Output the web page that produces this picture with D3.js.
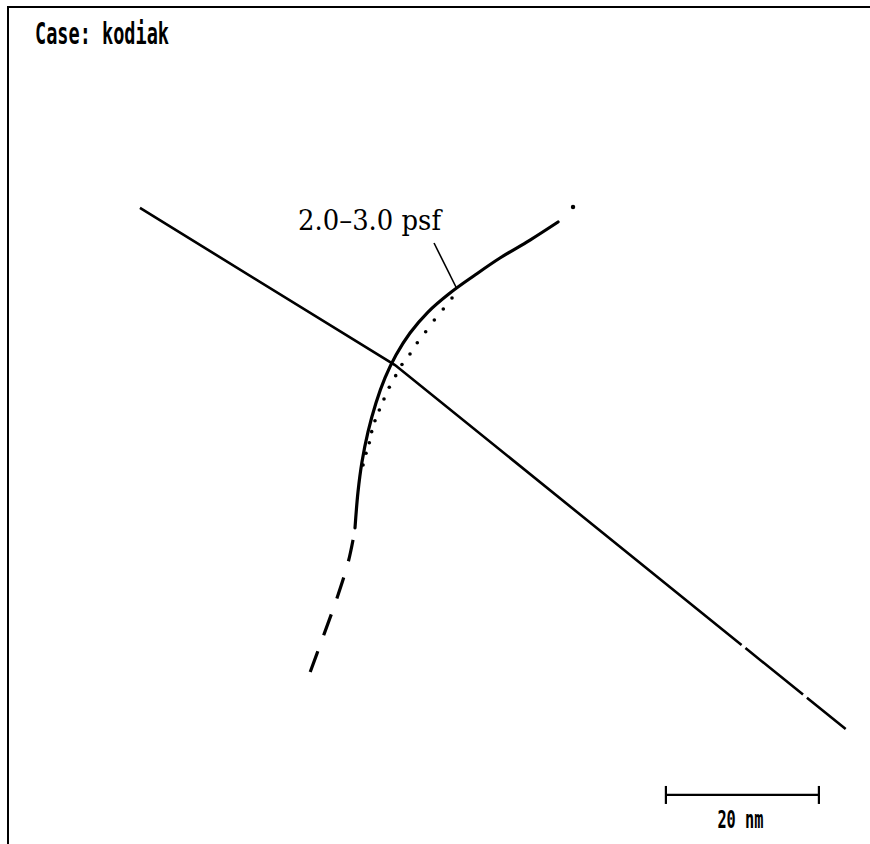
<!DOCTYPE html>
<html>
<head>
<meta charset="utf-8">
<script src="https://cdn.jsdelivr.net/npm/d3@7"></script>
<style>
  html, body { margin: 0; padding: 0; background: #fff; }
  svg { display: block; }
</style>
</head>
<body>
<div id="chart"></div>
<script>
// positions in nm, x to the east, y to the north
const trackLine = [
  [17.25, 83.14], [50.59, 62.61], [109.5, 15.03]
];
const contourSolid = [
  [71.90, 81.31], [68.24, 78.95], [64.31, 76.60], [61.05, 74.38],
  [57.78, 72.03], [54.90, 69.54], [52.55, 66.80], [50.72, 63.92],
  [49.28, 60.92], [48.10, 57.65], [47.06, 53.86], [46.27, 49.93],
  [45.75, 46.01], [45.36, 41.31]
];
const contourDashed = [
  [45.36, 41.31], [45.10, 39.74], [44.44, 36.73], [43.01, 32.16],
  [41.18, 27.06], [39.22, 21.70]
];
const contourEndDot = [[73.86, 83.27]];
const dottedPoints = [
  [58.04, 71.37], [56.90, 69.93], [55.73, 68.50], [54.60, 66.97],
  [53.50, 65.53], [52.55, 64.05], [51.50, 62.68], [50.68, 61.22],
  [49.84, 59.70], [49.15, 58.17], [48.54, 56.73], [47.97, 55.33],
  [47.54, 53.90], [47.23, 52.46], [46.80, 51.07], [46.41, 49.54]
];
const leader = [[55.69, 78.56], [58.69, 72.55]];
const contourLabel = { text: "2.0\u20133.0 psf", pos: [37.91, 80.26] };
const scaleBar = { start: 86.0, length: 20, y: 6.41, label: "20 nm" };
const caseTitle = "Case: kodiak";

const width = 870, height = 844;

const svg = d3.select("#chart").append("svg")
  .attr("width", width)
  .attr("height", height);

// 20 nm = 153 px
const x = d3.scaleLinear().domain([0, 100]).range([8, 773]);
const y = d3.scaleLinear().domain([0, 100]).range([844, 79]);

// frame (top and left edges only)
svg.append("path")
  .attr("d", `M8,${height} L8,7 L${width},7`)
  .attr("fill", "none")
  .attr("stroke", "#000")
  .attr("stroke-width", 2);

svg.append("text")
  .attr("x", 35).attr("y", 44)
  .attr("font-family", "DejaVu Sans Mono")
  .attr("font-weight", "bold")
  .attr("font-size", 30)
  .attr("textLength", 134)
  .attr("lengthAdjust", "spacingAndGlyphs")
  .text(caseTitle);

const line = d3.line().x(d => x(d[0])).y(d => y(d[1]));
const smooth = d3.line().x(d => x(d[0])).y(d => y(d[1])).curve(d3.curveCatmullRom.alpha(0.5));

// storm track (plotter leaves two small breaks near the end)
svg.append("path")
  .attr("d", line(trackLine))
  .attr("fill", "none")
  .attr("stroke", "#000")
  .attr("stroke-width", 2.6)
  .attr("stroke-dasharray", "745,5,74,5,400");

// solid contour
svg.append("path")
  .attr("d", smooth(contourSolid))
  .attr("fill", "none")
  .attr("stroke", "#000")
  .attr("stroke-width", 3.2)
  .attr("stroke-linecap", "round");

// dashed continuation
svg.append("path")
  .attr("d", smooth(contourDashed))
  .attr("fill", "none")
  .attr("stroke", "#000")
  .attr("stroke-width", 3.2)
  .attr("stroke-dasharray", "22,17")
  .attr("stroke-dashoffset", 27);

svg.selectAll("circle.end")
  .data(contourEndDot)
  .enter().append("circle")
  .attr("class", "end")
  .attr("cx", d => x(d[0]))
  .attr("cy", d => y(d[1]))
  .attr("r", 2.2)
  .attr("fill", "#000");

// dotted curve
svg.selectAll("circle.dot")
  .data(dottedPoints)
  .enter().append("circle")
  .attr("class", "dot")
  .attr("cx", d => x(d[0]))
  .attr("cy", d => y(d[1]))
  .attr("r", 1.8)
  .attr("fill", "#000");

// label and leader
svg.append("path")
  .attr("d", line(leader))
  .attr("stroke", "#000")
  .attr("stroke-width", 1.6);

svg.append("text")
  .attr("x", x(contourLabel.pos[0]))
  .attr("y", y(contourLabel.pos[1]))
  .attr("font-family", "DejaVu Serif")
  .attr("font-size", 28)
  .attr("textLength", 143)
  .attr("lengthAdjust", "spacingAndGlyphs")
  .text(contourLabel.text);

// scale bar
const sb = svg.append("g");
const sx0 = x(scaleBar.start), sx1 = x(scaleBar.start + scaleBar.length), sy = y(scaleBar.y);
sb.append("line")
  .attr("x1", sx0).attr("x2", sx1).attr("y1", sy).attr("y2", sy)
  .attr("stroke", "#000").attr("stroke-width", 2.2);
[sx0, sx1].forEach(px => {
  sb.append("line")
    .attr("x1", px).attr("x2", px).attr("y1", sy - 9).attr("y2", sy + 9)
    .attr("stroke", "#000").attr("stroke-width", 2.2);
});
sb.append("text")
  .attr("x", (sx0 + sx1) / 2 - 2)
  .attr("y", sy + 33)
  .attr("text-anchor", "middle")
  .attr("font-family", "DejaVu Sans Mono")
  .attr("font-weight", "bold")
  .attr("font-size", 24)
  .attr("textLength", 46)
  .attr("lengthAdjust", "spacingAndGlyphs")
  .text(scaleBar.label);
</script>
</body>
</html>
